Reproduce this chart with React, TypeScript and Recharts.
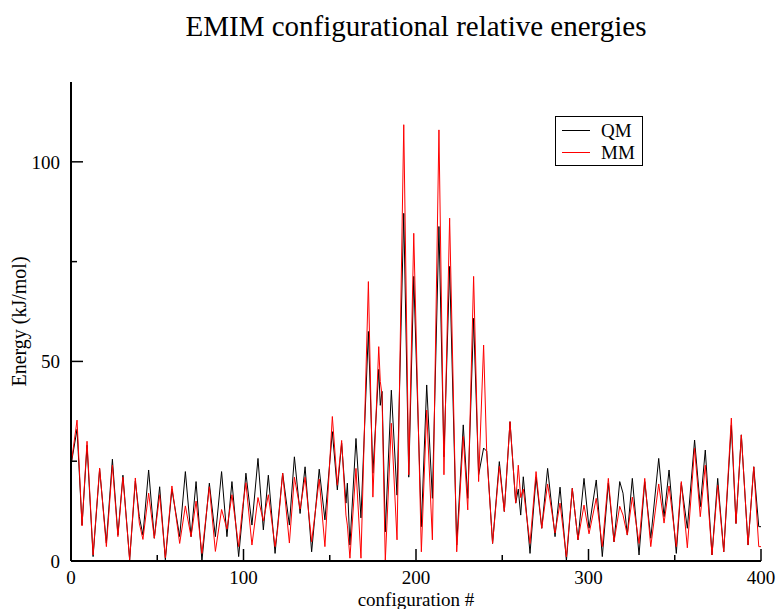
import { Line, LineChart, XAxis, YAxis } from "recharts";

const SERIF = "'Liberation Serif', 'Times New Roman', serif";

// configuration # at each turning point
const configs = [
  0, 3.5, 6.4, 9.3, 12.8, 16.6, 20.5, 24, 27.2, 30.1,
  34, 37.3, 39.6, 41.7, 45, 48.3, 51.4, 54.7, 58.5, 63,
  66.3, 69.6, 72.5, 75.9, 80.2, 83.7, 87.3, 90.4, 93.3, 97.2,
  99.5, 101.4, 104.9, 108.4, 111.5, 114.4, 118.3, 119.8, 122.7, 126.6,
  129.5, 132.8, 135.7, 139.5, 143.9, 147.2, 151.5, 154.4, 156.9, 159.4,
  160.2, 161.7, 165.2, 168.1, 172.4, 175, 178.4, 179.3, 180.3, 182.2,
  185.7, 189, 192.9, 195.8, 198.7, 203.1, 206.2, 209.5, 213.3, 216.2,
  219.5, 223.6, 227.4, 230, 233.4, 236.3, 239.2, 241, 244.4, 248.3,
  251.2, 254.5, 257.8, 259.3, 260.7, 262.2, 266.1, 269.6, 272.9, 276.3,
  280.6, 283.5, 287.2, 290.6, 293.9, 297.4, 300.3, 304.5, 308, 311.5,
  314.8, 318.1, 320, 322.5, 325.4, 329.3, 332.6, 336.1, 340.7, 343.8,
  346.7, 350.9, 353.8, 357.3, 361.5, 364.8, 367.7, 371.6, 374.9, 378.4,
  382.8, 385.5, 388.6, 392.5, 395.8, 398.7, 400,
];

// QM energies (kJ/mol)
const qmEnergy = [
  24, 33, 9, 29, 1.1, 23, 4.5, 25.5, 6.5, 21.5,
  0.3, 20, 11.1, 6.5, 22.8, 5.7, 18.6, 0.3, 18, 6.1,
  22.4, 6.1, 19.9, 0, 19.5, 6.1, 22.4, 6.1, 19.9, 1.1,
  12, 22, 9, 25.7, 7.8, 21.5, 1.9, 8.8, 22, 9,
  26.1, 11.9, 23.6, 2.3, 23, 10.3, 32.4, 17.8, 29.5, 14.5,
  19.5, 4, 30.7, 10.8, 57.5, 22, 48, 39, 42.5, 7.3,
  42.8, 16.5, 87.1, 21, 71.3, 8.6, 44.1, 15.7, 83.8, 26.1,
  73.8, 4, 34.1, 15.7, 60.8, 21.6, 28.3, 27.5, 4.4, 24.9,
  12.4, 34.9, 14.5, 18, 11.5, 21.1, 1.9, 21, 8.2, 23.2,
  6.1, 18.5, 0, 18.2, 5.3, 20.7, 8.2, 20.3, 1.1, 19.5,
  4.8, 19.9, 17, 6.5, 20.7, 1.5, 19.9, 5.7, 25.7, 11.1,
  22.8, 1.9, 19.5, 8.2, 30.3, 13.6, 27.8, 1.5, 20.7, 2.3,
  34, 9.4, 31.6, 4, 23.6, 8.6, 8.6,
];

// MM energies (kJ/mol)
const mmEnergy = [
  24, 35.3, 8.8, 30, 1.5, 23.3, 3.6, 24, 6.1, 21,
  0.3, 20.8, 9.5, 5.4, 17, 5.7, 16.6, 0.8, 18.8, 4.4,
  13.8, 6.1, 15, 1.9, 18.6, 2.4, 12.9, 8, 16.6, 3.6,
  13.6, 19.6, 4, 15.9, 10, 16.6, 3.6, 8, 22, 4.5,
  21, 13, 21, 4.8, 20.5, 3.6, 36.2, 19, 30.2, 11.5,
  9, 0.7, 23.2, 0.7, 70, 16, 53.7, 45, 41.6, 0,
  34.5, 5.3, 109.3, 21.6, 82.1, 2.3, 37.8, 5.3, 108, 21.6,
  85.9, 2.3, 31.2, 12.8, 71.3, 19.9, 54.1, 27, 4.4, 23.7,
  12.4, 34.9, 14.5, 24, 15.9, 18, 4.4, 22.4, 8.2, 19.3,
  7, 14.5, 1, 18.2, 5.3, 14, 6.8, 15.7, 3.6, 20.7,
  4.8, 13.7, 11.5, 6.5, 16, 4.4, 20.7, 3.6, 19.3, 9.5,
  18.8, 3.6, 19.9, 3.3, 28.3, 11.1, 24, 1.5, 19, 2.3,
  35.8, 9.4, 31.6, 4, 23.6, 3.6, 3.6,
];

const xTicks = [0, 50, 100, 150, 200, 250, 300, 350, 400];
const yTicks = [0, 25, 50, 75, 100];

const data = configs.map((config, i) => ({
  config,
  qm: qmEnergy[i],
  mm: mmEnergy[i],
}));

type Side = "bottom" | "top" | "left" | "right";

// grace-style ticks: pointing into the frame, labels only on bottom/left
function FrameTick(props: any) {
  const { x = 0, y = 0, payload, side, majorEvery } = props as {
    x: number;
    y: number;
    payload: { value: number };
    side: Side;
    majorEvery: number;
  };
  const value = payload ? payload.value : 0;
  const major = value % majorEvery === 0;
  const len = major ? 12 : 6;

  if (side === "bottom") {
    return (
      <g>
        <line x1={x} y1={y} x2={x} y2={y - len} stroke="#000" strokeWidth={1.5} />
        {major && (
          <text x={x} y={y + 23} textAnchor="middle" fontSize={19} fontFamily={SERIF} fill="#000">
            {value}
          </text>
        )}
      </g>
    );
  }
  if (side === "top") {
    return <line x1={x} y1={y} x2={x} y2={y + len} stroke="#000" strokeWidth={1.5} />;
  }
  if (side === "left") {
    return (
      <g>
        <line x1={x} y1={y} x2={x + len} y2={y} stroke="#000" strokeWidth={1.5} />
        {major && (
          <text x={x - 11} y={y + 7} textAnchor="end" fontSize={19} fontFamily={SERIF} fill="#000">
            {value}
          </text>
        )}
      </g>
    );
  }
  return <line x1={x} y1={y} x2={x - len} y2={y} stroke="#000" strokeWidth={1.5} />;
}

const frameLine = { stroke: "#000", strokeWidth: 2 };

export default function App() {
  return (
    <div style={{ position: "absolute", left: 0, top: 0, width: 780, height: 609, background: "#fff" }}>
      <div
        style={{
          position: "absolute",
          left: 71,
          top: 12,
          width: 690,
          textAlign: "center",
          fontFamily: SERIF,
          fontSize: 29,
          lineHeight: "29px",
          color: "#000",
        }}
      >
        EMIM configurational relative energies
      </div>

      <LineChart width={780} height={609} data={data} margin={{ top: 82, right: 19, left: 0, bottom: 0 }}>
        <XAxis
          dataKey="config"
          type="number"
          domain={[0, 400]}
          ticks={xTicks}
          interval={0}
          height={48}
          tickSize={0}
          tickMargin={0}
          axisLine={frameLine}
          tickLine={false}
          tick={(p: any) => <FrameTick {...p} side="bottom" majorEvery={100} />}
          label={{
            value: "configuration #",
            position: "insideBottom",
            offset: 3,
            fill: "#000",
            fontSize: 19,
            fontFamily: SERIF,
          }}
        />
        <XAxis
          xAxisId="top"
          dataKey="config"
          type="number"
          orientation="top"
          domain={[0, 400]}
          ticks={xTicks}
          interval={0}
          height={0}
          tickSize={0}
          tickMargin={0}
          axisLine={frameLine}
          tickLine={false}
          tick={(p: any) => <FrameTick {...p} side="top" majorEvery={100} />}
        />
        <YAxis
          type="number"
          domain={[0, 120]}
          ticks={yTicks}
          interval={0}
          width={71}
          tickSize={0}
          tickMargin={0}
          axisLine={frameLine}
          tickLine={false}
          tick={(p: any) => <FrameTick {...p} side="left" majorEvery={50} />}
          label={{
            value: "Energy (kJ/mol)",
            angle: -90,
            position: "insideLeft",
            offset: 19,
            fill: "#000",
            fontSize: 20,
            fontFamily: SERIF,
            style: { textAnchor: "middle" },
          }}
        />
        <YAxis
          yAxisId="right"
          type="number"
          orientation="right"
          domain={[0, 120]}
          ticks={yTicks}
          interval={0}
          width={0}
          tickSize={0}
          tickMargin={0}
          axisLine={frameLine}
          tickLine={false}
          tick={(p: any) => <FrameTick {...p} side="right" majorEvery={50} />}
        />
        <Line
          type="linear"
          dataKey="qm"
          name="QM"
          stroke="#000000"
          strokeWidth={1}
          dot={false}
          activeDot={false}
          isAnimationActive={false}
        />
        <Line
          type="linear"
          dataKey="mm"
          name="MM"
          stroke="#ff0000"
          strokeWidth={1}
          dot={false}
          activeDot={false}
          isAnimationActive={false}
        />
      </LineChart>

      <div
        style={{
          position: "absolute",
          left: 555,
          top: 116,
          width: 88,
          height: 50,
          boxSizing: "border-box",
          border: "1px solid #000",
          background: "#fff",
          fontFamily: SERIF,
          fontSize: 19,
          lineHeight: "19px",
          color: "#000",
        }}
      >
        <div style={{ position: "absolute", left: 6, top: 13, width: 28, height: 1, background: "#000000" }} />
        <div style={{ position: "absolute", left: 45, top: 4 }}>QM</div>
        <div style={{ position: "absolute", left: 6, top: 35, width: 28, height: 1, background: "#ff0000" }} />
        <div style={{ position: "absolute", left: 45, top: 26 }}>MM</div>
      </div>
    </div>
  );
}
